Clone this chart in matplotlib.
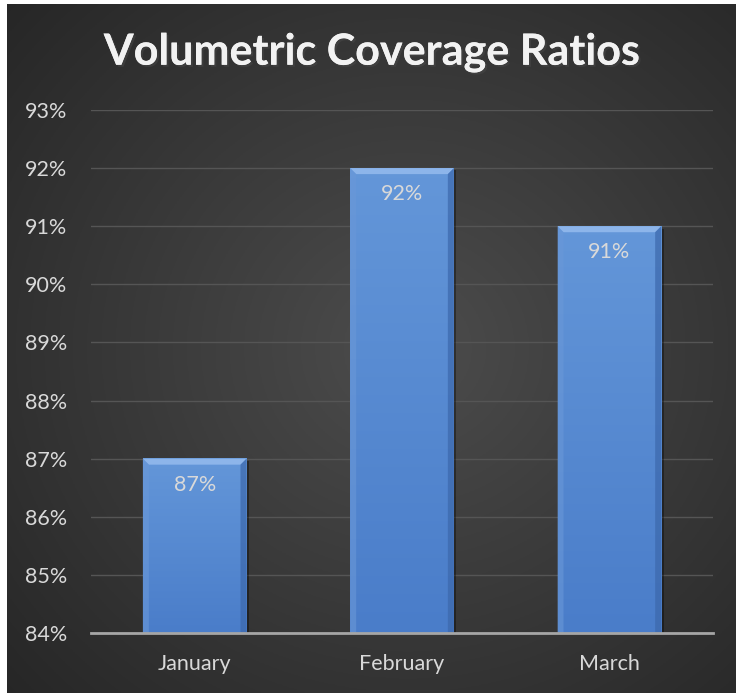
import matplotlib
matplotlib.use("Agg")
import matplotlib.pyplot as plt
import matplotlib.patheffects as pe
from matplotlib.patches import Polygon, Rectangle
import numpy as np

months = ["January", "February", "March"]
ratios = [87, 92, 91]
y_ticks = list(range(84, 94))

plt.rcParams['font.family'] = ['Lato', 'DejaVu Sans']

fig = plt.figure(figsize=(7.36, 6.93), dpi=100)
fig.patch.set_facecolor('white')

# dark backdrop, lighter towards the middle
bg = fig.add_axes([7 / 736, 0, 1 - 7 / 736, 1 - 4 / 693])
yy, xx = np.mgrid[0:1:300j, 0:1:300j]
r = np.sqrt(((xx - 0.55) / 0.8) ** 2 + ((yy - 0.5) / 0.8) ** 2)
shade = np.clip(1 - r, 0, 1)
g = 0.14 + 0.16 * shade
bg.imshow(np.dstack([g, g, g]), aspect='auto', extent=(0, 1, 0, 1))
bg.set_axis_off()

ax = fig.add_axes([91 / 736, 60 / 693, 622 / 736, 523 / 693])
ax.set_facecolor('none')
ax.set_xlim(-0.5, 2.5)
ax.set_ylim(84, 93)

x = np.arange(len(months))
w = 0.5
dx = 6 / (622 / 3)
dy = 6 / (523 / 9)

grad = np.linspace(0, 1, 100)[:, None]
top_c = np.array([0.39, 0.59, 0.85])
bot_c = np.array([0.29, 0.49, 0.79])
for i, v in zip(x, ratios):
    # soft shadow
    ax.add_patch(Rectangle((i - w / 2 + 0.012, 84), w, v - 84 - 0.04,
                           facecolor='black', alpha=0.35, zorder=1.5, lw=0))
    img = top_c * (1 - grad[..., None]) + bot_c * grad[..., None]
    img = img.reshape(100, 1, 3)
    ax.imshow(img, aspect='auto', extent=(i - w / 2, i + w / 2, 84, v),
              zorder=2, interpolation='bilinear')
    l, rr = i - w / 2, i + w / 2
    # bevel edges
    ax.add_patch(Polygon([(l, v), (rr, v), (rr - dx, v - dy), (l + dx, v - dy)],
                         facecolor='#8DB5EA', lw=0, zorder=3))
    ax.add_patch(Polygon([(l, v), (l + dx, v - dy), (l + dx, 84), (l, 84)],
                         facecolor='#6A98D8', lw=0, zorder=3, alpha=0.6))
    ax.add_patch(Polygon([(rr, v), (rr - dx, v - dy), (rr - dx, 84), (rr, 84)],
                         facecolor='#3C68AC', lw=0, zorder=3, alpha=0.7))
    ax.text(i, v - 0.45, f"{v}%", ha='center', va='center',
            color='#D9D9D9', fontsize=15.5, zorder=4)

ax.set_xticks(x)
ax.set_xticklabels(months)
ax.set_yticks(y_ticks)
ax.set_yticklabels([f"{t}%" for t in y_ticks])
ax.tick_params(axis='both', length=0, colors='#D9D9D9', labelsize=15.5)
ax.tick_params(axis='y', pad=17)
ax.tick_params(axis='x', pad=15)
ax.grid(axis='y', color='#555555', lw=1.0, zorder=0)
ax.set_axisbelow(True)
for s in ['top', 'right', 'left']:
    ax.spines[s].set_visible(False)
ax.spines['bottom'].set_color('#A6A6A6')
ax.spines['bottom'].set_linewidth(2)
ax.spines['bottom'].set_zorder(5)

fig.text(0.505, 0.925, "Volumetric Coverage Ratios", ha='center', va='center',
         color='#F2F2F2', fontsize=31, fontweight='bold',
         path_effects=[pe.withSimplePatchShadow(offset=(1.5, -1.5), alpha=0.5),
                       pe.Normal()])

fig.savefig("out.png", dpi=100)
